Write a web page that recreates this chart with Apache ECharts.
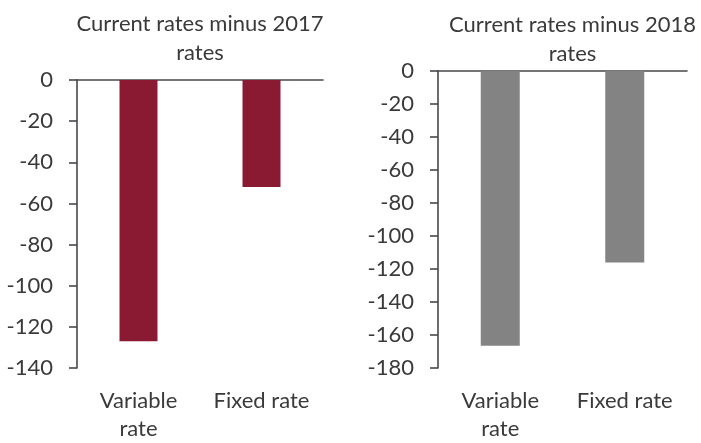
<!DOCTYPE html>
<html>
<head>
<meta charset="utf-8">
<script src="https://cdn.jsdelivr.net/npm/echarts@6/dist/echarts.min.js"></script>
<style>
  html, body { margin: 0; padding: 0; background: #fff; }
  #chart { width: 701px; height: 443px; }
</style>
</head>
<body>
<div id="chart"></div>
<script>
// data
const categories = ["Variable\nrate", "Fixed rate"];
const titles = ["Current rates minus 2017\nrates", "Current rates minus 2018\nrates"];
const values2017 = [-127, -52];
const values2018 = [-166.5, -116];
const yMin = [-140, -180];

const barColors = ["#8a1932", "#838383"];
const axisColor = "#46484b";
const textColor = "#3a3a3a";
const font = "Lato";
const fontSize = 22;

const grids = [
  { left: 77, top: 80, width: 246, height: 290 },
  { left: 438, top: 71, width: 249, height: 298 },
];

const chart = echarts.init(document.getElementById("chart"));

const xAxes = [];
const yAxes = [];
grids.forEach((g, i) => {
  // top axis: the line at zero with ticks
  xAxes.push({
    type: "category",
    gridIndex: i,
    position: "top",
    data: categories,
    axisLine: { lineStyle: { color: axisColor, width: 1.6 } },
    axisTick: { inside: true, length: 8, lineStyle: { color: axisColor, width: 1.6 } },
    axisLabel: { show: false },
  });
  // bottom axis: labels only
  xAxes.push({
    type: "category",
    gridIndex: i,
    position: "bottom",
    data: categories,
    axisLine: { show: false },
    axisTick: { show: false },
    axisLabel: {
      color: textColor,
      fontFamily: font,
      fontSize: fontSize,
      lineHeight: 28,
      margin: 19,
      interval: 0,
    },
  });
  yAxes.push({
    type: "value",
    gridIndex: i,
    min: yMin[i],
    max: 0,
    interval: 20,
    splitLine: { show: false },
    axisLine: { show: true, lineStyle: { color: axisColor, width: 1.6 } },
    axisTick: { show: true, length: 8, lineStyle: { color: axisColor, width: 1.6 } },
    axisLabel: { color: textColor, fontFamily: font, fontSize: fontSize, margin: 24 },
  });
});

const option = {
  animation: false,
  title: titles.map((t, i) => ({
    text: t,
    left: grids[i].left + grids[i].width / 2 + (i === 1 ? 5 : -5),
    top: i === 0 ? 4 : 5,
    textAlign: "center",
    textStyle: {
      color: textColor,
      fontFamily: font,
      fontWeight: "normal",
      fontSize: fontSize,
      lineHeight: 29,
    },
  })),
  grid: grids,
  xAxis: xAxes,
  yAxis: yAxes,
  series: [
    {
      type: "bar",
      xAxisIndex: 0,
      yAxisIndex: 0,
      data: values2017,
      barWidth: 38,
      itemStyle: { color: barColors[0] },
    },
    {
      type: "bar",
      xAxisIndex: 2,
      yAxisIndex: 1,
      data: values2018,
      barWidth: 39,
      itemStyle: { color: barColors[1] },
    },
  ],
};

chart.setOption(option);
</script>
</body>
</html>
